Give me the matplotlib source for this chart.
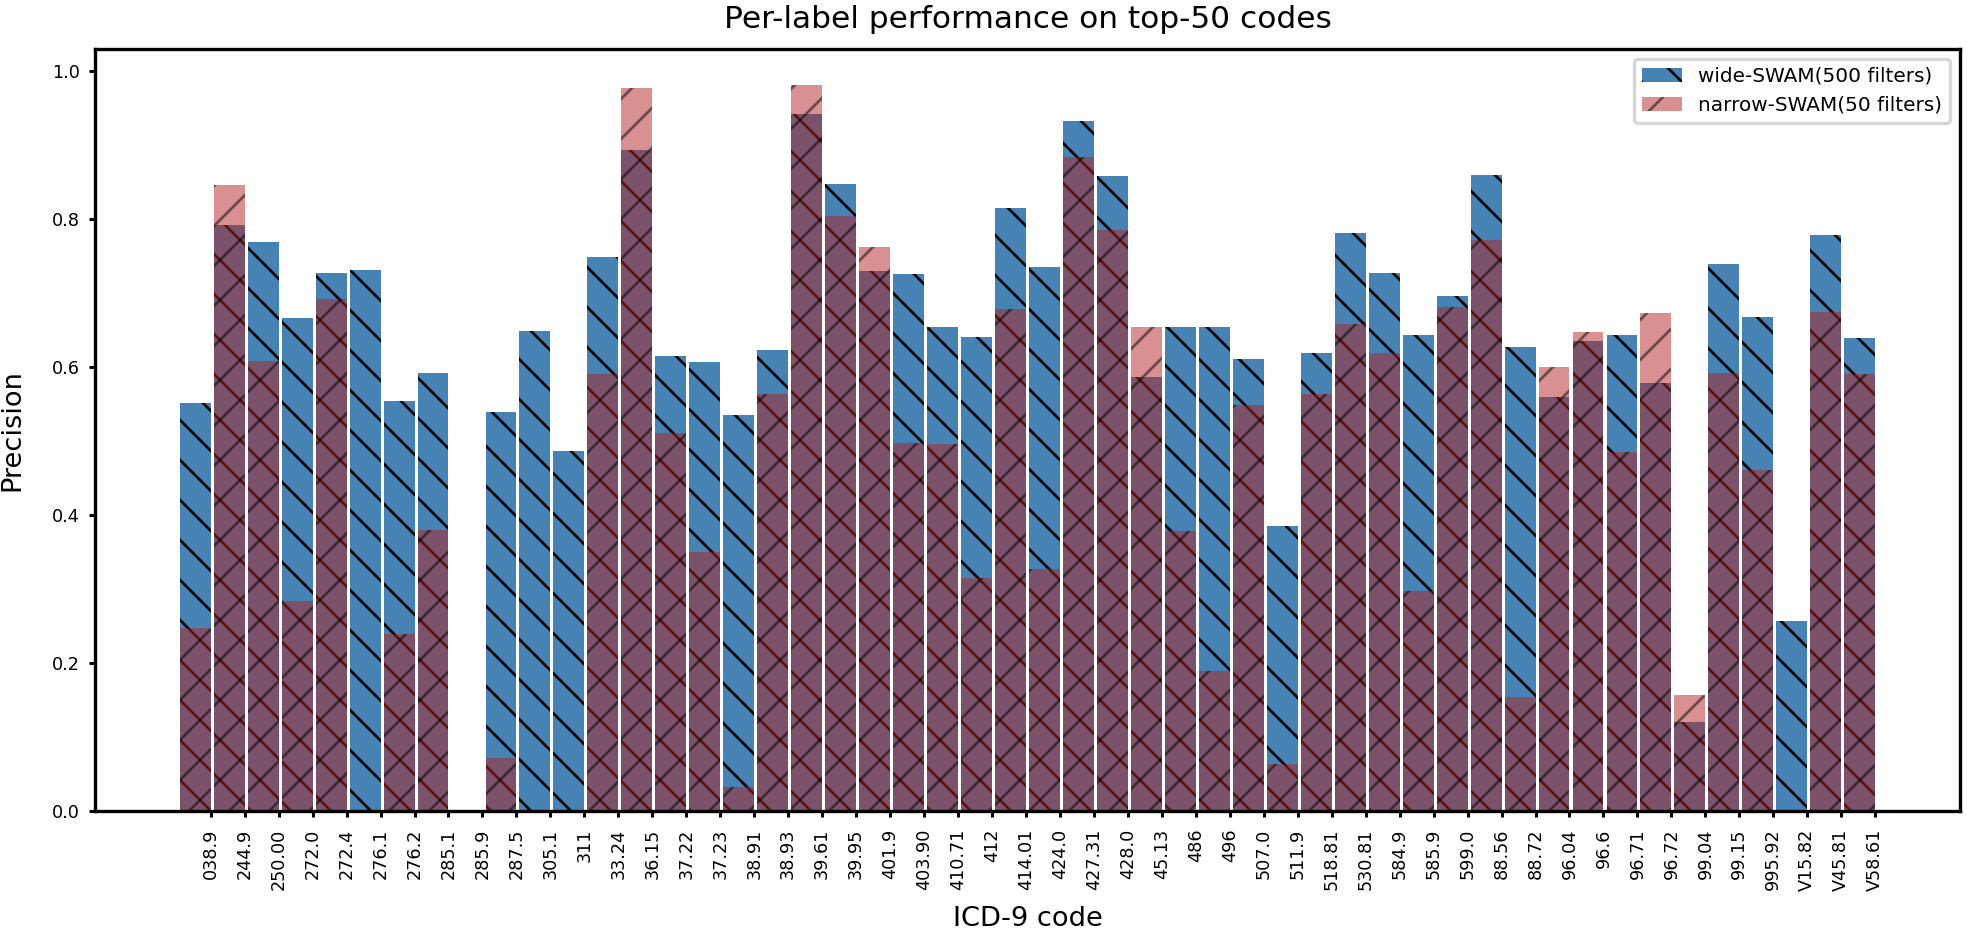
import numpy as np
import matplotlib
matplotlib.use("Agg")
import matplotlib.pyplot as plt

codes = ['038.9', '244.9', '250.00', '272.0', '272.4', '276.1', '276.2', '285.1', '285.9', '287.5',
         '305.1', '311', '33.24', '36.15', '37.22', '37.23', '38.91', '38.93', '39.61', '39.95',
         '401.9', '403.90', '410.71', '412', '414.01', '424.0', '427.31', '428.0', '45.13', '486',
         '496', '507.0', '511.9', '518.81', '530.81', '584.9', '585.9', '599.0', '88.56', '88.72',
         '96.04', '96.6', '96.71', '96.72', '99.04', '99.15', '995.92', 'V15.82', 'V45.81', 'V58.61']

wide_swam = [0.552, 0.793, 0.769, 0.666, 0.727, 0.732, 0.555, 0.592, 0.0, 0.540,
             0.649, 0.487, 0.749, 0.894, 0.615, 0.607, 0.535, 0.623, 0.943, 0.848,
             0.730, 0.726, 0.654, 0.641, 0.816, 0.735, 0.933, 0.859, 0.587, 0.654,
             0.654, 0.611, 0.385, 0.620, 0.781, 0.727, 0.644, 0.697, 0.860, 0.627,
             0.560, 0.636, 0.644, 0.579, 0.120, 0.740, 0.668, 0.257, 0.779, 0.639]

narrow_swam = [0.248, 0.847, 0.608, 0.284, 0.692, 0.0, 0.240, 0.380, 0.0, 0.071,
               0.0, 0.0, 0.591, 0.978, 0.511, 0.350, 0.032, 0.564, 0.982, 0.805,
               0.763, 0.498, 0.496, 0.315, 0.679, 0.327, 0.884, 0.786, 0.655, 0.379,
               0.189, 0.549, 0.063, 0.564, 0.658, 0.619, 0.297, 0.681, 0.772, 0.154,
               0.601, 0.648, 0.485, 0.674, 0.157, 0.592, 0.461, 0.0, 0.675, 0.591]

DPI = 240
W, H = 1968, 932
plt.rcParams['font.family'] = ['DejaVu Sans']
plt.rcParams['hatch.color'] = 'black'
plt.rcParams['hatch.linewidth'] = 0.8

fig = plt.figure(figsize=(W / DPI, H / DPI), dpi=DPI)
ax = fig.add_axes([95 / W, 1 - 811 / H, 1865 / W, (811 - 48.5) / H])

x = np.arange(len(codes))
bw = 0.91
ax.bar(x, wide_swam, width=bw, align='edge', color='steelblue', hatch='\\\\',
       label='wide-SWAM(500 filters)')
narrow = ax.bar(x, narrow_swam, width=bw, align='edge', color='firebrick', alpha=0.5,
                hatch='//', label='narrow-SWAM(50 filters)')
for p in narrow.patches:
    p._hatch_color = (0.0, 0.0, 0.0, 0.5)

ax.set_xticks(x + bw)
ax.set_xticklabels(codes, rotation=90, fontsize=5.3)
ax.tick_params(axis='x', length=1.8, width=0.9, pad=3.5)
ax.tick_params(axis='y', labelsize=5.3, length=1.8, width=0.9, pad=2.7)
for s in ax.spines.values():
    s.set_linewidth(1.0)

ax.set_title('Per-label performance on top-50 codes', fontsize=9.4, pad=6)
ax.set_ylabel('Precision', fontsize=8.2, labelpad=8)
ax.set_xlabel('ICD-9 code', fontsize=8.2, labelpad=4.5)
leg = ax.legend(loc='upper right', fontsize=6)
for p in leg.get_patches():
    if p.get_hatch() == '//':
        p._hatch_color = (0.0, 0.0, 0.0, 0.5)

fig.savefig('out.png', dpi=DPI)
